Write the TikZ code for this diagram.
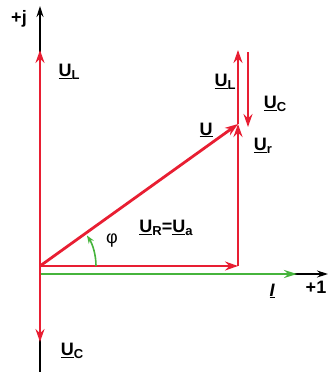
\documentclass[tikz,border=0pt]{standalone}
\usepackage{fontspec}
\setmainfont{Liberation Sans}
\usetikzlibrary{arrows.meta}
\definecolor{vred}{RGB}{232,30,50}
\definecolor{vgreen}{RGB}{70,180,60}
\newcommand\vlab[1]{\underline{U}\raisebox{-0.35ex}{\fontsize{13}{13}\selectfont #1}}
\begin{document}
\begin{tikzpicture}[x=1pt,y=-1pt,
  axis/.style={black,line width=1.3pt,-{Stealth[length=11pt,width=7pt]}},
  vec/.style={vred,line width=2.8pt,-{Stealth[length=13pt,width=9pt]}},
  cur/.style={vgreen,line width=2.2pt,-{Stealth[length=13pt,width=8pt]}},
  lab/.style={font=\fontsize{18}{18}\selectfont\bfseries,inner sep=1pt}]
\useasboundingbox (0,0) rectangle (330,372);
% points
\coordinate (O) at (40,274);
\coordinate (A) at (40,266);
\coordinate (Ytop) at (40,6);
\coordinate (Ybot) at (40,372);
\coordinate (Xend) at (328,274);
\coordinate (ULtip) at (40,50);
\coordinate (UCtip) at (40,342);
\coordinate (R) at (238,266);
\coordinate (T) at (238,124);
\coordinate (L) at (238,50);
\coordinate (C1) at (248,52);
\coordinate (C2) at (248,127);
\coordinate (Itip) at (297,274);
% axes
\draw[axis] (Ybot) -- (Ytop);
\draw[axis] (O) -- (Xend);
% current
\draw[cur] (O) -- (Itip);
% voltages
\draw[vec] (A) -- (ULtip);
\draw[vec] (A) -- (UCtip);
\draw[vec] (A) -- (R);
\draw[vred,line width=2.8pt] (R) -- ++(0,-30) coordinate (Rmid);
\draw[vec] (Rmid) -- (T);
\draw[vec] (A) -- (T);
\draw[vec] (T) -- (L);
\draw[vec,line width=2.2pt] (C1) -- (C2);
% angle
\draw[vgreen,line width=1.6pt,-{Stealth[length=8pt,width=6pt]}] ([shift={(0:56)}]A) arc[start angle=0,end angle=-33,radius=56];
% labels
\node[lab] (lj) at (19,19) {+j};
\node[lab] (l1) at (316,287) {+1};
\node[lab] (lI) at (272,291) {\underline{\itshape I}};
\node[lab] (lUL) at (69,72) {\vlab{L}};
\node[lab] (lUC) at (72,351) {\vlab{C}};
\node[lab] (lU) at (206,130) {\underline{U}};
\node[lab] (lUL2) at (225,82) {\vlab{L}};
\node[lab] (lUC2) at (275,104) {\vlab{C}};
\node[lab] (lUr) at (263,146) {\vlab{r}};
\node[lab] (lUR) at (166,228) {\vlab{R}=\vlab{a}};
\node[lab,font=\fontsize{18}{18}\selectfont] (phi) at (112,241) {φ};
\end{tikzpicture}
\end{document}
